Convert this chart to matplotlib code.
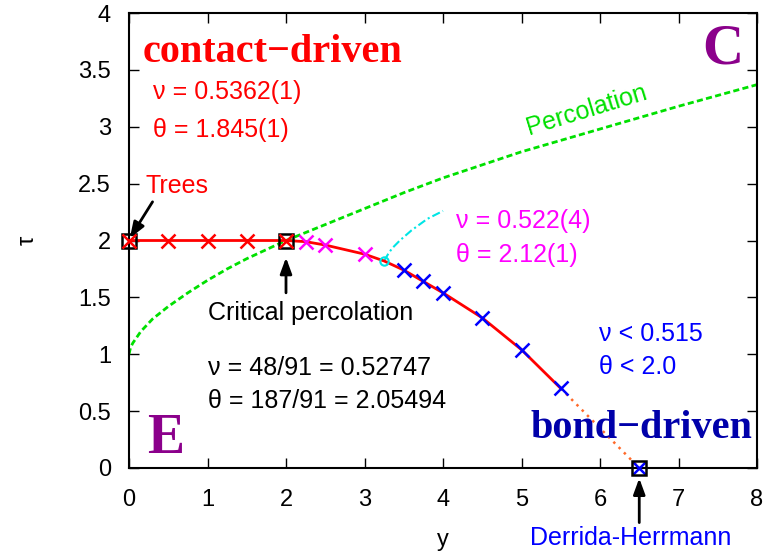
import matplotlib
matplotlib.use('Agg')
import matplotlib.pyplot as plt

plt.rcParams['font.family'] = ['Liberation Sans', 'DejaVu Sans']

# ---- data ----
contact_y = [0.0, 0.5, 1.0, 1.5, 2.0]
contact_tau = [2.0, 2.0, 2.0, 2.0, 2.0]
inter_y = [2.25, 2.5, 3.0]
inter_tau = [1.99, 1.96, 1.88]
special_y = [3.25]
special_tau = [1.82]
bond_y = [3.5, 3.75, 4.0, 4.5, 5.0, 5.5]
bond_tau = [1.74, 1.64, 1.54, 1.32, 1.04, 0.70]
exact_y = [0.0, 2.0]
exact_tau = [2.0, 2.0]
dh_y = [6.5]
dh_tau = [0.0]
extrap_y = [5.5, 6.5]
extrap_tau = [0.70, 0.0]
perc_y = [0.0, 0.02, 0.05, 0.1, 0.15, 0.3, 0.5, 0.75, 1.0, 1.25, 1.5, 2.0, 2.5,
          3.0, 3.5, 4.0, 5.0, 6.0, 7.0, 8.0]
perc_tau = [1.0, 1.06, 1.10, 1.15, 1.20, 1.31, 1.42, 1.54, 1.65, 1.75, 1.84,
            2.0, 2.14, 2.28, 2.42, 2.55, 2.78, 2.98, 3.18, 3.37]
cyan_y = [3.25, 3.3, 3.35, 3.45, 3.6, 3.8, 4.0]
cyan_tau = [1.82, 1.88, 1.93, 2.00, 2.09, 2.19, 2.26]
x_ticks = [0, 1, 2, 3, 4, 5, 6, 7, 8]
y_ticks = [0, 0.5, 1, 1.5, 2, 2.5, 3, 3.5, 4]
y_tick_labels = ['0', '0.5', '1', '1.5', '2', '2.5', '3', '3.5', '4']

RED = '#FF0000'
MAG = '#FF00FF'
BLUE = '#0000FF'
DBLUE = '#0000AA'
GREEN = '#00E000'
CYAN = '#00E5E5'
PURPLE = '#8B008B'
ORANGE = '#FF6A2A'

fig = plt.figure(figsize=(7.68, 5.56), dpi=100)
ax = fig.add_axes([129 / 768, 88 / 556, 628 / 768, 455 / 556])

# percolation line
ax.plot(perc_y, perc_tau, color=GREEN, lw=2, ls=(0, (2.2, 1.2)), zorder=2)
# cyan dash-dot
ax.plot(cyan_y, cyan_tau, color=CYAN, lw=1.5, ls=(0, (4, 1.5, 1, 1.5)), zorder=2)
# main red curve
curve_y = contact_y + inter_y + special_y + bond_y
curve_tau = contact_tau + inter_tau + special_tau + bond_tau
ax.plot(curve_y, curve_tau, color=RED, lw=2, zorder=3)
ax.plot(extrap_y, extrap_tau, color=ORANGE, lw=1.8, ls=(0, (1, 2)), zorder=3)

# markers
ax.plot(contact_y, contact_tau, ls='none', marker='x', ms=10, mew=1.8, color=RED,
        zorder=6, clip_on=False)
ax.plot(inter_y, inter_tau, ls='none', marker='x', ms=10, mew=1.8, color=MAG, zorder=4)
ax.plot(special_y, special_tau, ls='none', marker='o', ms=6, mew=1.5,
        mfc='none', mec=CYAN, zorder=4)
ax.plot(bond_y, bond_tau, ls='none', marker='x', ms=10, mew=1.8, color=BLUE, zorder=4)
ax.plot(exact_y, exact_tau, ls='none', marker='s', ms=10, mew=1.8,
        mfc='none', mec='black', zorder=5, clip_on=False)
ax.plot(dh_y, dh_tau, ls='none', marker='x', ms=8, mew=1.8, color=BLUE, zorder=5, clip_on=False)
ax.plot(dh_y, dh_tau, ls='none', marker='s', ms=10, mew=1.8,
        mfc='none', mec='black', zorder=5, clip_on=False)

ax.set_xlim(0, 8)
ax.set_ylim(0, 4)
ax.set_xticks(x_ticks)
ax.set_yticks(y_ticks)
ax.set_yticklabels(y_tick_labels)
ax.tick_params(direction='in', top=True, right=True, length=7, width=1,
               labelsize=17, pad=13)
ax.tick_params(axis='x', pad=15)
for s in ax.spines.values():
    s.set_linewidth(1.5)

ax.text(0.5, -0.158, 'y', transform=ax.transAxes, ha='center', va='center', fontsize=17)
ax.text(-0.161, 0.5, 'τ', transform=ax.transAxes, ha='center', va='center',
        fontsize=17, rotation=90)

serif = ['Liberation Serif', 'DejaVu Serif']
ax.text(0.17, 3.57, 'contact−driven', color=RED, fontsize=29, fontweight='bold',
        family=serif, va='baseline')
ax.text(7.94, 0.26, 'bond−driven', color=DBLUE, fontsize=29, fontweight='bold',
        family=serif, va='baseline', ha='right')
ax.text(7.30, 3.56, 'C', color=PURPLE, fontsize=41, fontweight='bold',
        family=serif, va='baseline')
ax.text(0.23, 0.13, 'E', color=PURPLE, fontsize=40, fontweight='bold',
        family=serif, va='baseline')

fs = 18
ax.text(0.30, 3.24, 'ν = 0.5362(1)', color=RED, fontsize=fs, va='baseline')
ax.text(0.30, 2.91, 'θ = 1.845(1)', color=RED, fontsize=fs, va='baseline')
ax.text(4.16, 2.11, 'ν = 0.522(4)', color=MAG, fontsize=fs, va='baseline')
ax.text(4.16, 1.81, 'θ = 2.12(1)', color=MAG, fontsize=fs, va='baseline')
ax.text(5.99, 1.12, 'ν < 0.515', color=BLUE, fontsize=fs, va='baseline')
ax.text(5.99, 0.83, 'θ < 2.0', color=BLUE, fontsize=fs, va='baseline')
ax.text(1.0, 0.82, 'ν = 48/91 = 0.52747', color='black', fontsize=fs, va='baseline')
ax.text(1.0, 0.53, 'θ = 187/91 = 2.05494', color='black', fontsize=fs, va='baseline')
ax.text(1.0, 1.30, 'Critical percolation', color='black', fontsize=fs, va='baseline')
ax.text(0.21, 2.42, 'Trees', color=RED, fontsize=fs, va='baseline')
ax.text(5.83, 3.15, 'Percolation', color=GREEN, fontsize=fs, ha='center',
        va='center', rotation=17)
ax.text(6.39, -0.68, 'Derrida-Herrmann', color=BLUE, fontsize=fs, ha='center',
        va='baseline', clip_on=False)

arrow = dict(arrowstyle='-|>,head_length=0.6,head_width=0.22', lw=2, color='black',
             mutation_scale=16, shrinkA=0, shrinkB=0)
ax.annotate('', xy=(0.01, 2.02), xytext=(0.30, 2.34), arrowprops=arrow,
            annotation_clip=False)
ax.annotate('', xy=(2.0, 1.85), xytext=(2.0, 1.54), arrowprops=arrow,
            annotation_clip=False)
ax.annotate('', xy=(6.5, -0.09), xytext=(6.5, -0.48), arrowprops=arrow,
            annotation_clip=False)

fig.savefig('out.png', dpi=100)
